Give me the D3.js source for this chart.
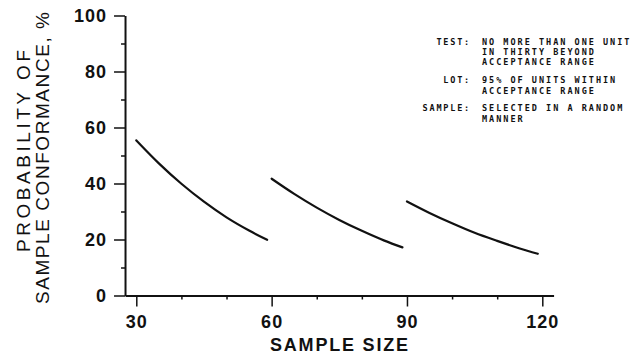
<!DOCTYPE html>
<html><head><meta charset="utf-8">
<script src="https://cdn.jsdelivr.net/npm/d3@7/dist/d3.min.js"></script>
<style>
html,body{margin:0;padding:0;background:#fff;}
svg{display:block;}
</style></head>
<body>
<svg id="c" width="641" height="354"></svg>
<script>
// ---- data ----
const xTicks = [30, 60, 90, 120];
const xMinorTicks = [40, 50, 70, 80, 100, 110];
const yTicks = [0, 20, 40, 60, 80, 100];
const yMinorTicks = [10, 30, 50, 70, 90];
const seg1N = [30, 35, 40, 45, 50, 55, 59];
const seg1V = [55.4, 47.2, 39.9, 33.5, 27.9, 23.2, 19.9];
const seg2N = [60, 65, 70, 75, 80, 85, 89];
const seg2V = [41.7, 36.3, 31.4, 27.0, 23.1, 19.6, 17.2];
const seg3N = [90, 95, 100, 105, 110, 115, 119];
const seg3V = [33.6, 29.5, 25.8, 22.4, 19.5, 16.8, 14.9];
const xTitle = "SAMPLE SIZE";
const yTitle1 = "PROBABILITY OF";
const yTitle2 = "SAMPLE CONFORMANCE, %";
const noteLabels = ["TEST:", "LOT:", "SAMPLE:"];
const noteTexts = [
  ["NO MORE THAN ONE UNIT", "IN THIRTY BEYOND", "ACCEPTANCE RANGE"],
  ["95% OF UNITS WITHIN", "ACCEPTANCE RANGE"],
  ["SELECTED IN A RANDOM", "MANNER"]
];

// ---- layout ----
const svg = d3.select("#c");
const x = d3.scaleLinear().domain([30, 120]).range([136.3, 542.3]);
const y = d3.scaleLinear().domain([0, 100]).range([295.5, 15.5]);
const xAxisDom = [27.5, 122.5];
const xa = d3.scaleLinear().domain(xAxisDom).range(xAxisDom.map(x));
const axisX0 = x(xAxisDom[0]);
const tickFont = "'Liberation Sans', Arial, Helvetica, sans-serif";

// Y axis
const gy = svg.append("g").attr("transform", `translate(${axisX0},0)`);
gy.call(d3.axisLeft(y).tickValues(yTicks).tickSize(11).tickSizeOuter(0).tickPadding(7).tickFormat(d3.format("d")));
const gym = svg.append("g").attr("transform", `translate(${axisX0},0)`);
gym.call(d3.axisLeft(y).tickValues(yMinorTicks).tickSize(4).tickSizeOuter(0).tickFormat(""));
gym.select(".domain").remove();

// X axis
const gx = svg.append("g").attr("transform", `translate(0,${y(0)})`);
gx.call(d3.axisBottom(xa).tickValues(xTicks).tickSize(11).tickSizeOuter(0).tickPadding(9).tickFormat(d3.format("d")));
const gxm = svg.append("g").attr("transform", `translate(0,${y(0)})`);
gxm.call(d3.axisBottom(xa).tickValues(xMinorTicks).tickSize(4).tickSizeOuter(0).tickFormat(""));
gxm.select(".domain").remove();

svg.selectAll(".domain").attr("stroke", "#111").attr("stroke-width", 2);
svg.selectAll(".tick line").attr("stroke", "#111").attr("stroke-width", 1.5);
svg.selectAll(".tick text")
  .attr("fill", "#111")
  .style("font-family", tickFont)
  .style("font-size", "18px")
  .style("font-weight", "bold")
  .style("letter-spacing", "1px");

// curves
const line = d3.line().x(d => x(d[0])).y(d => y(d[1])).curve(d3.curveMonotoneX);
[[seg1N, seg1V], [seg2N, seg2V], [seg3N, seg3V]].forEach(([ns, vs]) => {
  svg.append("path")
    .datum(ns.map((n, i) => [n, vs[i]]))
    .attr("d", line)
    .attr("fill", "none")
    .attr("stroke", "#111")
    .attr("stroke-width", 2.2)
    .attr("stroke-linecap", "round");
});

// titles
svg.append("text")
  .attr("x", 339).attr("y", 351)
  .attr("text-anchor", "middle")
  .attr("textLength", 138).attr("lengthAdjust", "spacing")
  .style("font-family", tickFont).style("font-size", "18px").style("font-weight", "bold")
  .attr("fill", "#111")
  .text(xTitle);

svg.append("text")
  .attr("transform", "translate(30,151) rotate(-90)")
  .attr("text-anchor", "middle")
  .attr("textLength", 202).attr("lengthAdjust", "spacing")
  .style("font-family", tickFont).style("font-size", "19px")
  .attr("fill", "#111")
  .text(yTitle1);
svg.append("text")
  .attr("transform", "translate(49,158) rotate(-90)")
  .attr("text-anchor", "middle")
  .attr("textLength", 292).attr("lengthAdjust", "spacing")
  .style("font-family", tickFont).style("font-size", "19px")
  .attr("fill", "#111")
  .text(yTitle2);

// notes
const noteFont = "'DejaVu Sans Mono', 'Liberation Mono', monospace";
const rowTops = [[42, 52, 62], [80, 91], [108, 119]];
noteLabels.forEach((lab, i) => {
  svg.append("text")
    .attr("x", 471).attr("y", rowTops[i][0] + 3)
    .attr("text-anchor", "end")
    .style("font-family", noteFont).style("font-size", "8.5px").style("font-weight", "bold")
    .style("letter-spacing", "1.8px")
    .attr("fill", "#111")
    .text(lab);
  noteTexts[i].forEach((t, j) => {
    svg.append("text")
      .attr("x", 482).attr("y", rowTops[i][j] + 3)
      .style("font-family", noteFont).style("font-size", "8.5px").style("font-weight", "bold")
      .style("letter-spacing", "2px")
      .attr("fill", "#111")
      .text(t);
  });
});
</script>
</body></html>
